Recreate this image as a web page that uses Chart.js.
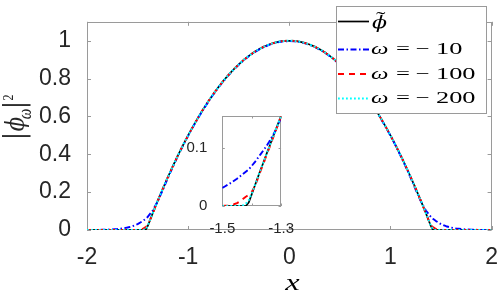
<!DOCTYPE html>
<html><head><meta charset="utf-8">
<script src="https://cdn.jsdelivr.net/npm/chart.js@4/dist/chart.umd.min.js"></script>
<style>
html,body{margin:0;padding:0;background:#fff;overflow:hidden;}
#wrap{position:relative;width:504px;height:294px;}
#main{position:absolute;left:0;top:0;}
#inset{position:absolute;left:180px;top:100px;}
</style></head><body>
<div id="wrap"><canvas id="main" width="504" height="294"></canvas><canvas id="inset" width="120" height="135"></canvas></div>
<script>
// ---------- data ----------
const xMain = [-2,-1.95,-1.9,-1.85,-1.8,-1.75,-1.7,-1.65,-1.6,-1.55,-1.5,-1.45,-1.42,-1.4,-1.35,-1.3,-1.25,-1.2,-1.15,-1.1,-1.05,-1,-0.95,-0.9,-0.85,-0.8,-0.75,-0.7,-0.65,-0.6,-0.55,-0.5,-0.45,-0.4,-0.35,-0.3,-0.25,-0.2,-0.15,-0.1,-0.05,0,0.05,0.1,0.15,0.2,0.25,0.3,0.35,0.4,0.45,0.5,0.55,0.6,0.65,0.7,0.75,0.8,0.85,0.9,0.95,1,1.05,1.1,1.15,1.2,1.25,1.3,1.35,1.4,1.42,1.45,1.5,1.55,1.6,1.65,1.7,1.75,1.8,1.85,1.9,1.95,2];
const phiTilde = [0,0,0,0,0,0,0,0,0,0,0,0,0,0.02,0.089,0.155,0.219,0.28,0.339,0.395,0.449,0.5,0.549,0.595,0.639,0.68,0.719,0.755,0.789,0.82,0.849,0.875,0.899,0.92,0.939,0.955,0.969,0.98,0.989,0.995,0.999,1,0.999,0.995,0.989,0.98,0.969,0.955,0.939,0.92,0.899,0.875,0.849,0.82,0.789,0.755,0.719,0.68,0.639,0.595,0.549,0.5,0.449,0.395,0.339,0.28,0.219,0.155,0.089,0.02,0,0,0,0,0,0,0,0,0,0,0,0,0];
const omega10 = [0,0.0002,0.0005,0.001,0.002,0.003,0.005,0.008,0.013,0.02,0.031,0.047,0.059,0.069,0.103,0.152,0.212,0.275,0.335,0.392,0.447,0.498,0.547,0.593,0.637,0.678,0.717,0.753,0.787,0.818,0.847,0.873,0.897,0.918,0.937,0.953,0.967,0.978,0.987,0.993,0.997,0.998,0.997,0.993,0.987,0.978,0.967,0.953,0.937,0.918,0.897,0.873,0.847,0.818,0.787,0.753,0.717,0.678,0.637,0.593,0.547,0.498,0.447,0.392,0.335,0.275,0.212,0.152,0.103,0.069,0.059,0.047,0.031,0.02,0.013,0.008,0.005,0.003,0.002,0.001,0.0005,0.0002,0];
const omega100 = [0,0,0,0,0,0,0,0,0,0,0,0.005,0.016,0.024,0.087,0.155,0.219,0.28,0.339,0.395,0.449,0.5,0.549,0.595,0.639,0.68,0.719,0.755,0.789,0.82,0.849,0.875,0.899,0.92,0.939,0.955,0.969,0.98,0.989,0.995,0.999,1,0.999,0.995,0.989,0.98,0.969,0.955,0.939,0.92,0.899,0.875,0.849,0.82,0.789,0.755,0.719,0.68,0.639,0.595,0.549,0.5,0.449,0.395,0.339,0.28,0.219,0.155,0.087,0.024,0.016,0.005,0,0,0,0,0,0,0,0,0,0,0];
const omega200 = [0,0,0,0,0,0,0,0,0,0,0,0,0.004,0.021,0.089,0.155,0.219,0.28,0.339,0.395,0.449,0.5,0.549,0.595,0.639,0.68,0.719,0.755,0.789,0.82,0.849,0.875,0.899,0.92,0.939,0.955,0.969,0.98,0.989,0.995,0.999,1,0.999,0.995,0.989,0.98,0.969,0.955,0.939,0.92,0.899,0.875,0.849,0.82,0.789,0.755,0.719,0.68,0.639,0.595,0.549,0.5,0.449,0.395,0.339,0.28,0.219,0.155,0.089,0.021,0.004,0,0,0,0,0,0,0,0,0,0,0,0];

const xInset = [-1.5,-1.49,-1.48,-1.47,-1.46,-1.45,-1.44,-1.43,-1.42,-1.41,-1.4,-1.39,-1.38,-1.37,-1.36,-1.35,-1.34,-1.33,-1.32,-1.31,-1.3];
const insetPhiTilde = [0,0,0,0,0,0,0,0,0,0.006,0.02,0.034,0.048,0.062,0.075,0.089,0.102,0.116,0.129,0.142,0.155];
const insetOmega10 = [0.031,0.034,0.037,0.04,0.0435,0.047,0.051,0.055,0.059,0.063,0.069,0.075,0.082,0.089,0.096,0.103,0.111,0.12,0.129,0.14,0.152];
const insetOmega100 = [0,0.0005,0.001,0.002,0.003,0.005,0.008,0.012,0.016,0.019,0.024,0.033,0.046,0.06,0.073,0.087,0.1,0.114,0.127,0.141,0.155];
const insetOmega200 = [0,0,0,0,0,0,0,0.001,0.004,0.01,0.021,0.034,0.048,0.062,0.075,0.089,0.102,0.116,0.129,0.142,0.155];

const seriesLabels = ['ϕ̃', 'ω = −10', 'ω = −100', 'ω = −200'];
const xTicks = [-2,-1,0,1,2];
const xTickLabels = ['-2','-1','0','1','2'];
const yTicks = [0,0.2,0.4,0.6,0.8,1];
const yTickLabels = ['0','0.2','0.4','0.6','0.8','1'];
const insetXTicks = [-1.5,-1.4,-1.3];
const insetXTickLabels = ['-1.5','','-1.3'];
const insetYTicks = [0,0.1];
const insetYTickLabels = ['0','0.1'];

// ---------- styles ----------
const styles = [
  {color:'#000000', dash:[], width:1.7, order:4},
  {color:'#0000ff', dash:[6,2.5,1.5,2.5], width:1.9, order:3},
  {color:'#ff0000', dash:[6,5], width:1.9, order:2},
  {color:'#00ffff', dash:[1.8,2.2], width:2, order:1}
];
const AXIS = '#9a9a9a';
const TXT = '#262626';

function pts(xs, ys){ return xs.map((x,i)=>({x:x, y:ys[i]})); }
function makeSets(xs, arrs){
  return arrs.map((ys,i)=>({
    label: seriesLabels[i], data: pts(xs, ys),
    borderColor: styles[i].color, borderDash: styles[i].dash, borderWidth: styles[i].width,
    order: styles[i].order, showLine:true, pointRadius:0, tension:0, fill:false,
    borderCapStyle:'butt', borderJoinStyle:'round'
  }));
}

function framePlugin(tickLen, tx, ty, fillBg){
  return {
    id:'frame',
    beforeDatasetsDraw(chart){
      const {ctx, chartArea:a, scales} = chart;
      ctx.save();
      if (fillBg){ ctx.fillStyle='#fff'; ctx.fillRect(a.left,a.top,a.right-a.left,a.bottom-a.top); }
      ctx.strokeStyle = AXIS; ctx.lineWidth = 1;
      ctx.strokeRect(Math.round(a.left)+0.5, Math.round(a.top)+0.5, Math.round(a.right-a.left)-1, Math.round(a.bottom-a.top)-1);
      ctx.beginPath();
      tx.forEach(v=>{ const p=Math.round(scales.x.getPixelForValue(v))+0.5;
        ctx.moveTo(p,a.bottom); ctx.lineTo(p,a.bottom-tickLen);
        ctx.moveTo(p,a.top); ctx.lineTo(p,a.top+tickLen); });
      ty.forEach(v=>{ const p=Math.round(scales.y.getPixelForValue(v))+0.5;
        ctx.moveTo(a.left,p); ctx.lineTo(a.left+tickLen,p);
        ctx.moveTo(a.right,p); ctx.lineTo(a.right-tickLen,p); });
      ctx.stroke();
      ctx.restore();
    }
  };
}

function stretchText(ctx, txt, x, y, font, sx, align){
  ctx.save(); ctx.translate(x,y); ctx.scale(sx,1); ctx.font=font;
  ctx.textAlign=align||'left'; ctx.textBaseline='alphabetic'; ctx.fillText(txt,0,0); ctx.restore();
}
function rotText(ctx, txt, bx, cy, font, sy){
  ctx.save(); ctx.translate(bx,cy); ctx.rotate(-Math.PI/2); ctx.scale(1,sy); ctx.font=font;
  ctx.textAlign='center'; ctx.textBaseline='alphabetic'; ctx.fillText(txt,0,0); ctx.restore();
}

const labelPlugin = {
  id:'labels',
  afterDraw(chart){
    const ctx = chart.ctx;
    ctx.save();
    ctx.fillStyle = '#000';
    // x axis title
    stretchText(ctx, 'x', 292.5, 290, 'italic 24px "Liberation Serif"', 1.35, 'center');
    // y axis title |ϕ_ω|^2
    ctx.fillStyle = TXT;
    rotText(ctx, '|', 24, 136, '22px "DejaVu Sans"', 1.25);
    rotText(ctx, 'ϕ', 24, 124, 'italic 21px "DejaVu Serif"', 1.2);
    rotText(ctx, 'ω', 31, 114, 'italic 15px "Liberation Serif"', 1.3);
    rotText(ctx, '|', 24, 105, '22px "DejaVu Sans"', 1.25);
    rotText(ctx, '2', 13, 97.5, '12px "Liberation Serif"', 1.3);
    // legend
    const L=336, T=6, W=151, H=108;
    ctx.fillStyle='#fff'; ctx.fillRect(L,T,W,H);
    ctx.strokeStyle=AXIS; ctx.lineWidth=1; ctx.strokeRect(L+0.5,T+0.5,W-1,H-1);
    const rows=[21.5,49.5,74,98.5];
    styles.forEach((s,i)=>{
      ctx.save(); ctx.beginPath(); ctx.setLineDash(s.dash); ctx.strokeStyle=s.color; ctx.lineWidth=s.width;
      ctx.moveTo(338,rows[i]); ctx.lineTo(369,rows[i]); ctx.stroke(); ctx.restore();
    });
    ctx.fillStyle='#000';
    seriesLabels.forEach((lab,i)=>{
      const by = rows[i]+4.8;
      if (i===0){
        stretchText(ctx, lab.charAt(0), 372, 28, 'italic 17px "DejaVu Serif"', 1.3);
        stretchText(ctx, '˜', 376, 25, '19px "Liberation Serif"', 1.5);
      } else {
        const parts = lab.split(' = ');
        stretchText(ctx, parts[0], 371, by, 'italic 17px "Liberation Serif"', 1.45);
        stretchText(ctx, '=', 396, by, '17px "Liberation Serif"', 1.45);
        stretchText(ctx, parts[1].charAt(0), 415.5, by, '17px "Liberation Serif"', 1.45);
        stretchText(ctx, parts[1].slice(1), 436, by, '17px "Liberation Serif"', 1.55);
      }
    });
    ctx.restore();
  }
};

Chart.defaults.animation = false;

new Chart(document.getElementById('main'), {
  type:'scatter',
  data:{ datasets: makeSets(xMain, [phiTilde, omega10, omega100, omega200]) },
  options:{
    responsive:false, animation:false,
    layout:{ padding:{left:0,right:7,top:0,bottom:0} },
    plugins:{ legend:{display:false}, tooltip:{enabled:false} },
    scales:{
      x:{ type:'linear', min:-2, max:2,
          afterBuildTicks(s){ s.ticks = xTicks.map(v=>({value:v})); },
          afterFit(s){ s.height = 64; },
          grid:{display:false}, border:{display:false},
          ticks:{ padding:6, color:TXT, font:{family:'"Liberation Sans"', size:23}, maxRotation:0,
                  callback:(v,i)=>xTickLabels[i] } },
      y:{ type:'linear', min:0, max:1.1,
          afterBuildTicks(s){ s.ticks = yTicks.map(v=>({value:v})); },
          afterFit(s){ s.width = 87; },
          grid:{display:false}, border:{display:false},
          ticks:{ padding:8, color:TXT, font:{family:'"Liberation Sans"', size:23},
                  callback:(v,i)=>yTickLabels[i] } }
    }
  },
  plugins:[framePlugin(4, xTicks, yTicks, false), labelPlugin]
});

new Chart(document.getElementById('inset'), {
  type:'scatter',
  data:{ datasets: makeSets(xInset, [insetPhiTilde, insetOmega10, insetOmega100, insetOmega200]) },
  options:{
    responsive:false, animation:false,
    layout:{ padding:{left:0,right:12,top:7.5,bottom:0} },
    plugins:{ legend:{display:false}, tooltip:{enabled:false} },
    scales:{
      x:{ type:'linear', min:-1.5, max:-1.3,
          afterBuildTicks(s){ s.ticks = insetXTicks.map(v=>({value:v})); },
          afterFit(s){ s.height = 29; },
          grid:{display:false}, border:{display:false},
          ticks:{ padding:6, color:TXT, font:{family:'"Liberation Sans"', size:15}, maxRotation:0, autoSkip:false,
                  callback:(v,i)=>insetXTickLabels[i] } },
      y:{ type:'linear', min:0, max:0.155,
          afterBuildTicks(s){ s.ticks = insetYTicks.map(v=>({value:v})); },
          afterFit(s){ s.width = 42.3; },
          grid:{display:false}, border:{display:false},
          ticks:{ padding:7, color:TXT, font:{family:'"Liberation Sans"', size:15},
                  callback:(v,i)=>insetYTickLabels[i] } }
    }
  },
  plugins:[framePlugin(2.5, insetXTicks, insetYTicks, true)]
});
</script>
</body></html>
